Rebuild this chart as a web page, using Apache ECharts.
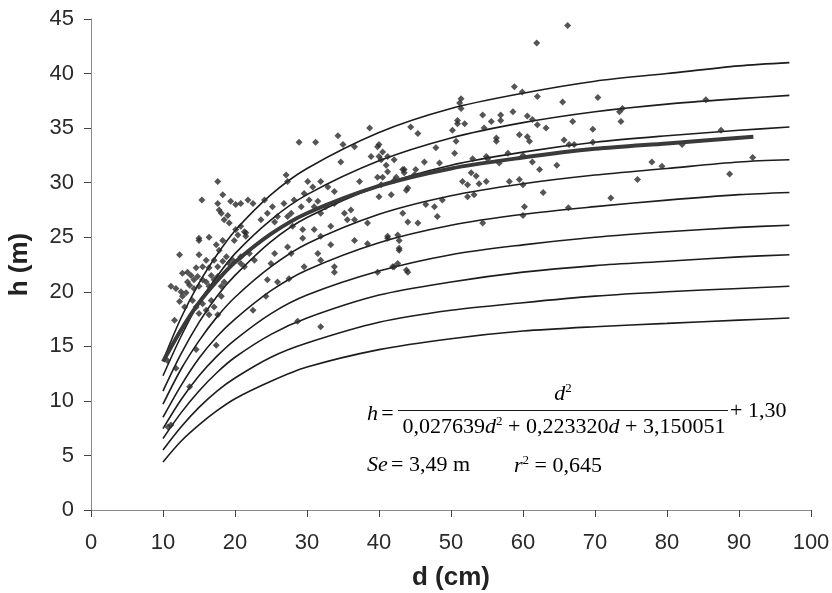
<!DOCTYPE html>
<html>
<head>
<meta charset="utf-8">
<script src="https://cdn.jsdelivr.net/npm/echarts@6/dist/echarts.min.js"></script>
<style>html,body{margin:0;padding:0;background:#fff;}</style>
</head>
<body>
<div id="main" style="width:832px;height:593px;"></div>
<script type="text/javascript">
    // diametres where the curves were read (cm)
    var dCurve = [10, 12.5, 15, 17.5, 20, 25, 30, 40, 50, 60, 70, 80, 90, 97];
    // thin guide curves, top to bottom (h in m)
    var band1 = [13.7, 17.6, 20.8, 23.4, 25.6, 28.9, 31.3, 34.6, 36.8, 38.2, 39.3, 40.0, 40.7, 41.0];
    var band2 = [12.3, 15.9, 19.0, 21.4, 23.5, 26.6, 28.9, 32.0, 34.1, 35.5, 36.5, 37.2, 37.7, 38.0];
    var band3 = [10.9, 14.3, 17.2, 19.6, 21.5, 24.6, 26.8, 29.7, 31.6, 32.8, 33.7, 34.3, 34.8, 35.1];
    var band4 = [9.7, 12.9, 15.5, 17.7, 19.5, 22.3, 24.4, 27.1, 28.8, 29.9, 30.7, 31.3, 31.9, 32.1];
    var band5 = [8.5, 11.4, 13.9, 15.9, 17.5, 20.1, 22.0, 24.5, 26.1, 27.1, 27.8, 28.4, 28.9, 29.1];
    var band6 = [7.45, 10.1, 12.3, 14.1, 15.6, 18.0, 19.7, 21.9, 23.4, 24.3, 25.0, 25.5, 25.9, 26.1];
    var band7 = [6.55, 8.9, 10.9, 12.6, 14.0, 16.1, 17.6, 19.7, 20.9, 21.8, 22.4, 22.8, 23.2, 23.4];
    var band8 = [5.5, 7.6, 9.4, 10.9, 12.1, 14.0, 15.3, 17.2, 18.3, 19.0, 19.6, 20.0, 20.3, 20.5];
    var band9 = [4.4, 6.3, 7.8, 9.1, 10.2, 11.8, 13.1, 14.7, 15.7, 16.4, 16.8, 17.1, 17.4, 17.6];
    var bands = [band1, band2, band3, band4, band5, band6, band7, band8, band9];

    // fitted curve (thick)
    var dFit = [10, 12.5, 15, 17.5, 20, 25, 30, 40, 50, 60, 70, 80, 92];
    var hFit = [13.6, 16.5, 19.0, 21.0, 22.7, 25.3, 27.2, 29.7, 31.3, 32.3, 33.1, 33.6, 34.2];

    // measured trees [d (cm), h (m)]
    var trees = [
        [17.6,30.1],[18.3,28.9],[15.4,28.4],[17.6,28.1],[17.8,27.5],[18.1,27.2],
        [19.4,28.3],[20.1,28.0],[20.8,28.1],[21.8,28.4],[22.5,28.1],
        [19.0,27.0],[18.5,26.6],[19.2,26.3],
        [20.1,25.7],[20.8,26.0],[21.3,25.5],[20.4,25.2],[21.5,25.1],[19.9,24.7],
        [15.0,24.7],[16.4,25.0],[18.3,24.7],[17.4,24.3],[17.8,23.8],[12.3,23.4],
        [15.0,23.4],[16.0,22.9],[15.5,22.3],[16.4,22.2],[17.1,22.9],[17.6,22.3],[18.3,22.8],[18.8,23.2],[19.2,22.6],[19.7,22.9],
        [13.4,21.8],[13.9,21.5],[14.6,22.2],[14.8,21.4],[14.3,21.1],
        [11.1,20.5],[11.8,20.3],[12.5,20.0],[13.2,19.9],[12.7,19.6],[12.3,19.1],[13.0,18.6],
        [13.7,20.6],[14.3,20.3],[15.0,20.5],[15.5,21.1],[16.0,20.9],[16.4,20.5],[16.7,21.5],[17.1,21.1],[17.6,21.4],[18.1,20.5],[18.5,20.9],
        [14.1,19.2],[14.6,18.6],[15.0,18.0],[15.5,18.9],[16.0,18.3],[16.7,19.2],[17.1,18.6],[16.4,17.9],[17.6,17.9],[18.1,19.6],
        [11.6,17.4],[20.8,23.2],[21.3,22.3],[20.8,22.6],[22.5,18.3],
        [14.6,14.7],[17.4,15.1],[10.6,13.7],[11.8,13.0],
        [13.7,11.3],[11.1,7.8],[10.7,7.6],[24.3,19.6],[28.7,17.3],[31.9,16.8],
        [28.9,33.7],[31.2,33.7],[34.3,34.3],[38.7,35.0],[35.0,33.5],[39.8,33.3],[40.0,32.4],[38.9,32.4],[36.6,33.3],
        [34.7,31.9],[37.3,30.1],[39.8,30.5],[41.2,32.4],[42.1,32.1],
        [27.1,30.7],[27.3,30.1],[30.1,30.1],[30.8,29.6],[31.9,30.1],[32.9,29.6],[33.8,29.2],
        [43.5,31.2],[43.8,29.3],[44.9,30.7],[44.0,26.4],
        [24.1,28.4],[24.5,27.2],[25.2,27.8],[25.9,26.9],[26.8,28.1],[27.8,27.2],[28.2,28.4],[29.2,27.8],[29.6,29.0],[30.3,28.4],[31.0,27.8],[31.5,28.3],
        [31.9,27.2],[32.6,27.8],[33.8,28.1],[35.2,27.2],[36.1,27.5],[35.6,26.6],[36.6,26.6],[38.4,26.3],
        [23.6,26.6],[25.5,26.4],[27.3,26.9],[28.0,26.0],[29.4,25.7],[31.0,25.7],[31.9,25.1],[33.3,26.0],
        [21.5,25.4],[22.0,23.5],[22.7,22.9],[25.0,22.6],[25.5,23.5],[27.3,24.1],[27.8,23.5],[29.4,24.9],[31.5,23.5],[31.9,22.9],[33.3,24.3],[33.8,22.3],[36.6,24.7],[38.4,24.4],[41.2,24.9],[42.6,25.2],[42.8,24.0],
        [24.5,21.1],[25.9,20.9],[27.5,21.2],[29.6,22.3],[33.8,21.8],[39.8,21.8],[44.0,21.8],[42.1,22.3],
        [12.7,21.7],[13.4,20.9],[15.0,24.9],
        [58.8,38.8],[59.9,38.3],[51.4,37.7],[51.2,37.3],[51.4,36.8],[44.4,35.1],[45.4,34.5],
        [54.4,36.2],[55.6,35.6],[56.9,36.2],[56.9,35.7],[58.6,36.5],
        [50.9,35.7],[50.9,35.4],[51.9,35.4],[50.2,34.8],[54.6,35.0],[56.3,34.1],[56.3,33.8],[59.5,34.4],
        [40.0,33.5],[40.5,32.8],[40.3,32.1],
        [47.9,33.2],[50.7,33.8],[50.5,32.7],[53.0,32.2],[54.9,32.4],[55.1,32.2],[57.9,32.7],[56.7,31.8],[60.0,32.5],
        [41.0,31.6],[46.3,31.9],[48.4,31.8],[41.2,31.0],[43.3,31.2],[43.5,30.9],[45.1,31.2],[42.4,30.5],[40.5,30.5],[40.3,29.8],[42.1,30.2],[44.0,29.5],[40.0,28.7],[41.7,28.9],
        [52.8,30.9],[53.5,30.6],[51.6,30.1],[52.3,29.8],[53.9,29.9],[54.9,30.1],[58.1,30.1],[59.5,30.3],[60.0,29.8],
        [52.3,28.7],[53.2,28.9],[46.5,28.0],[47.7,27.8],[48.8,28.4],[48.1,26.9],[43.3,27.2],[45.4,26.3],[54.4,26.3],[60.0,27.0],[60.2,27.8],
        [41.2,25.1],[42.8,24.7],[42.8,23.8],[42.6,22.6],[41.9,22.3],[43.8,22.0],
        [66.2,44.4],[61.9,42.8],[62.0,37.9],[65.5,37.4],[70.4,37.8],[85.4,37.6],
        [73.8,36.8],[73.4,36.5],[73.6,35.6],
        [60.6,36.1],[61.3,35.8],[62.0,35.3],[63.2,35.0],[66.9,35.6],[69.7,34.9],
        [60.6,34.2],[60.9,33.8],[65.7,33.9],[66.4,33.5],[67.1,33.5],[69.7,33.7],
        [87.5,34.8],[82.1,33.5],
        [61.3,31.9],[62.3,31.2],[64.7,31.6],[77.9,31.9],[79.3,31.5],[91.9,32.3],[88.7,30.8],
        [62.8,29.1],[75.9,30.3],[72.2,28.6],[66.3,27.7]
    ];

    var xTicks = { min: 0, max: 100, step: 10 };
    var yTicks = { min: 0, max: 45, step: 5 };

    var myChart = echarts.init(document.getElementById('main'));

    function zip(xs, ys) {
        return xs.map(function (x, i) { return [x, ys[i]]; });
    }

    var series = bands.map(function (b, i) {
        return {
            name: 'band' + (i + 1),
            type: 'line',
            data: zip(dCurve, b),
            smooth: 0.3,
            showSymbol: false,
            lineStyle: { color: '#1c1c1c', width: 1.6 },
            z: 2
        };
    });
    series.push({
        name: 'obs',
        type: 'scatter',
        data: trees,
        symbol: 'diamond',
        symbolSize: 7,
        itemStyle: { color: '#2b2b2b' },
        z: 3
    });
    series.push({
        name: 'fit',
        type: 'line',
        data: zip(dFit, hFit),
        smooth: 0.3,
        showSymbol: false,
        lineStyle: { color: '#3a3a3a', width: 4 },
        z: 4
    });

    var sans = "'Liberation Sans', Arial, sans-serif";
    var serif = "'Liberation Serif', 'DejaVu Serif', serif";
    var rich = {
        it: { fontFamily: serif, fontStyle: 'italic', fontSize: 22, color: '#1a1a1a' },
        rm: { fontFamily: serif, fontSize: 22, color: '#1a1a1a' },
        sup: { fontFamily: serif, fontSize: 13, color: '#1a1a1a', padding: [0, 0, 11, 0] }
    };

    var option = {
        animation: false,
        backgroundColor: '#fff',
        grid: { left: 91, right: 21, top: 19, bottom: 83, outerBoundsMode: 'none' },
        xAxis: {
            type: 'value',
            min: xTicks.min, max: xTicks.max, interval: xTicks.step,
            name: 'd (cm)',
            nameLocation: 'middle',
            nameGap: 55,
            nameTextStyle: { fontFamily: sans, fontWeight: 'bold', fontSize: 26, color: '#222' },
            splitLine: { show: false },
            axisLine: { lineStyle: { color: '#8a8a8a', width: 1 } },
            axisTick: { inside: false, length: 7, lineStyle: { color: '#444' } },
            axisLabel: { margin: 22, fontFamily: sans, fontSize: 22, color: '#2a2a2a' }
        },
        yAxis: {
            type: 'value',
            min: yTicks.min, max: yTicks.max, interval: yTicks.step,
            name: 'h (m)',
            nameLocation: 'middle',
            nameGap: 58,
            nameRotate: 90,
            nameTextStyle: { fontFamily: sans, fontWeight: 'bold', fontSize: 26, color: '#222' },
            splitLine: { show: false },
            axisLine: { show: true, lineStyle: { color: '#8a8a8a', width: 1 } },
            axisTick: { show: true, inside: false, length: 7, lineStyle: { color: '#444' } },
            axisLabel: { margin: 17, fontFamily: sans, fontSize: 22, color: '#2a2a2a' }
        },
        graphic: [
            {
                type: 'text', left: 367, top: 403,
                style: { text: '{it|h} {rm|=}', rich: rich }
            },
            {
                type: 'line',
                shape: { x1: 398, y1: 410.5, x2: 728, y2: 410.5 },
                style: { stroke: '#1a1a1a', lineWidth: 1 }
            },
            {
                type: 'text', x: 563, y: 406,
                style: { text: '{it|d}{sup|2}', rich: rich, align: 'center', verticalAlign: 'bottom' }
            },
            {
                type: 'text', x: 564, y: 415,
                style: {
                    text: '{rm|0,027639}{it|d}{sup|2}{rm| + 0,223320}{it|d}{rm| + 3,150051}',
                    rich: rich, align: 'center', verticalAlign: 'top'
                }
            },
            {
                type: 'text', left: 730, top: 400,
                style: { text: '{rm|+ 1,30}', rich: rich }
            },
            {
                type: 'text', left: 367, top: 454,
                style: { text: '{it|Se} {rm|= 3,49 m}', rich: rich }
            },
            {
                type: 'text', left: 514, top: 454,
                style: { text: '{it|r}{sup|2}{rm| = 0,645}', rich: rich }
            }
        ],
        series: series
    };

    myChart.setOption(option);
</script>
</body>
</html>
